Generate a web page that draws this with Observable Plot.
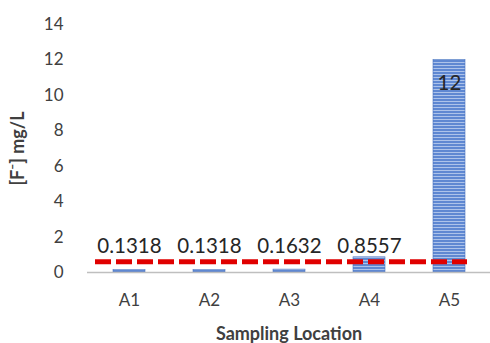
<!DOCTYPE html>
<html><head><meta charset="utf-8">
<script src="https://cdn.jsdelivr.net/npm/d3@7"></script>
<script src="https://cdn.jsdelivr.net/npm/@observablehq/plot@0.6"></script>
<style>body{margin:0;background:#fff;} svg{font-family:Lato,"Open Sans",sans-serif;}</style>
</head><body><div id="chart"></div>
<script>
const locations = ["A1","A2","A3","A4","A5"];
const fluoride = [0.1318, 0.1318, 0.1632, 0.8557, 12];
const valueLabels = ["0.1318","0.1318","0.1632","0.8557","12"];
const labelY = [1.45, 1.45, 1.45, 1.45, 10.65];
const limit = 0.6;
const yTicks = [0,2,4,6,8,10,12,14];

const data = locations.map((loc,i)=>({loc, v:fluoride[i], lab:valueLabels[i], ly:labelY[i]}));

const chart = Plot.plot({
  width:490, height:343,
  marginLeft:87, marginRight:0, marginTop:24, marginBottom:71,
  style:{fontSize:"17px", color:"#404040", background:"#fff"},
  x:{domain:locations, paddingInner:0.6, paddingOuter:0.3, align:0.5, label:"Sampling Location"},
  y:{domain:[0,14], ticks:yTicks, label:"[F⁻] mg/L"},
  marks:[
    Plot.axisY({ticks:yTicks, tickSize:0, tickPadding:24, fontSize:17, label:"[F⁻] mg/L", labelAnchor:"center", labelArrow:"none", labelOffset:76}),
    Plot.axisX({tickSize:0, tickPadding:21, fontSize:17, label:"Sampling Location", labelAnchor:"center", labelArrow:"none", labelOffset:67}),
    Plot.barY(data,{x:"loc", y:"v", fill:"url(#stripes)", stroke:"#4a74c0", strokeWidth:0.6}),
    Plot.ruleY([0],{stroke:"#bfbfbf", strokeWidth:1.5}),
    Plot.ruleY([limit],{stroke:"#e00000", strokeWidth:5, strokeDasharray:"16,5", insetLeft:8, insetRight:23}),
    Plot.text(data,{x:"loc", y:"ly", text:"lab", fontSize:20.5, fill:"#262626"})
  ]
});
const svg = d3.select(chart);
const defs = svg.insert("defs",":first-child");
const p = defs.append("pattern").attr("id","stripes").attr("patternUnits","userSpaceOnUse").attr("width",6).attr("height",3);
p.append("rect").attr("width",6).attr("height",3).attr("fill","#5f88d2");
p.append("rect").attr("width",6).attr("height",1).attr("y",2).attr("fill","#adc3ea");
svg.selectAll("g[aria-label='y-axis label'] text, g[aria-label='x-axis label'] text").attr("font-weight","bold").attr("font-size",18);
document.getElementById("chart").appendChild(chart);
</script></body></html>
